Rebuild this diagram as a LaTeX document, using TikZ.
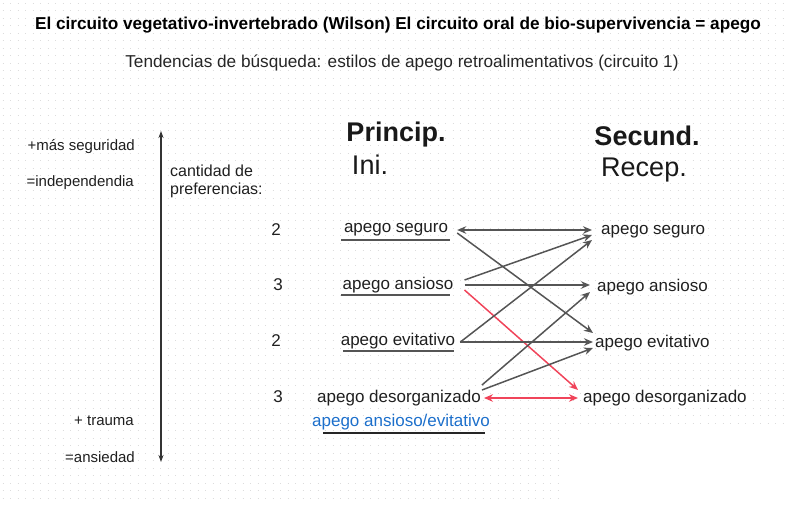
\documentclass[tikz,border=0pt]{standalone}
\usepackage{fontspec}
\setmainfont{Liberation Sans}
\usetikzlibrary{arrows.meta, positioning}
\definecolor{arrowgray}{HTML}{555555}
\definecolor{arrowred}{HTML}{F0445A}
\definecolor{linkblue}{HTML}{1C6FCB}
\definecolor{dotgray}{HTML}{DCDCDC}

\begin{document}
\begin{tikzpicture}[x=1pt, y=-1pt,
    apegotext/.style={
        font=\fontsize{17}{20}\selectfont,
        inner sep=0pt,
        text=black!88
    },
    sidetext/.style={
        font=\fontsize{15}{18}\selectfont,
        inner sep=0pt,
        anchor=east,
        text=black!88
    },
    headtext/.style={
        font=\fontsize{27}{30}\selectfont,
        inner sep=0pt,
        text=black!90
    },
    linkarrow/.style={
        draw=arrowgray,
        line width=1.5pt,
        -{Stealth[length=9pt, width=7.5pt]}
    },
    redarrow/.style={
        linkarrow,
        draw=arrowred
    },
    bothtips/.style={
        {Stealth[length=9pt, width=7.5pt]}-{Stealth[length=9pt, width=7.5pt]}
    }
]
\useasboundingbox (0,0) rectangle (786,504);

% Background dot grid
\foreach \k in {0,...,66} {
    \pgfmathsetmacro{\dy}{3.3+7.5*\k}
    \pgfmathsetmacro{\dx}{ifthenelse(\dy>424,562,786)}
    \draw[dotgray, line width=1.2pt, dash pattern=on 1.2pt off 6.3pt] (2.7,\dy) -- (\dx,\dy);
}

% Titles
\node[font=\fontsize{17.2}{20}\selectfont\bfseries, inner sep=0pt] (title) at (398,25)
    {El circuito vegetativo-invertebrado (Wilson) El circuito oral de bio-supervivencia = apego};
\node[font=\fontsize{17.2}{20}\selectfont, inner sep=0pt, text=black!85] (subtitle) at (402,63)
    {Tendencias de búsqueda: estilos de apego retroalimentativos (circuito 1)};

% Column heads
\node[headtext, font=\fontsize{27}{30}\selectfont\bfseries] (princ) at (396,135) {Princip.};
\node[headtext] (ini) at (370,165) {Ini.};
\node[headtext, font=\fontsize{27}{30}\selectfont\bfseries] (secund) at (647,136) {Secund.};
\node[headtext] (recep) at (644,170) {Recep.};

% Scale on the left
\node[sidetext] (seg) at (135,147) {+más seguridad};
\node[sidetext] (indep) at (134,183) {=independendia};
\node[sidetext] (trauma) at (134,421) {+ trauma};
\node[sidetext] (ansiedad) at (135,457) {=ansiedad};
\coordinate (axtop) at (161,131);
\coordinate (axbot) at (161,462);
\draw[black!80, line width=1.1pt, {Stealth[length=7pt, width=5pt]}-{Stealth[length=7pt, width=5pt]}] (axtop) -- (axbot);

\node[apegotext, anchor=west, align=left, font=\fontsize{16}{18}\selectfont] (cantidad) at (170,181)
    {cantidad de\\preferencias:};

% Preference counts
\node[apegotext] (n1) at (276,230) {2};
\node[apegotext] (n2) at (278,285) {3};
\node[apegotext] (n3) at (276,341) {2};
\node[apegotext] (n4) at (278,397) {3};

% Left column
\node[apegotext] (ls) at (396,230) {apego seguro};
\node[apegotext] (la) at (398,285) {apego ansioso};
\node[apegotext] (le) at (398,341) {apego evitativo};
\node[apegotext] (ld) at (399,398) {apego desorganizado};
\node[apegotext, text=linkblue] (lae) at (401,422) {apego ansioso/evitativo};

\draw[arrowgray, line width=1.5pt] (341,240) -- (450,240);
\draw[arrowgray, line width=1.5pt] (341,295) -- (450,295);
\draw[arrowgray, line width=1.5pt] (343,351) -- (454,351);
\draw[black!85, line width=1.5pt] (323,433) -- (485,433);

% Right column
\node[apegotext, anchor=west] (rs) at (601,232) {apego seguro};
\node[apegotext, anchor=west] (ra) at (597,287) {apego ansioso};
\node[apegotext, anchor=west] (re) at (595,343) {apego evitativo};
\node[apegotext, anchor=west] (rd) at (583,398) {apego desorganizado};

% Connections
\draw[linkarrow, bothtips] ([xshift=9pt]ls.east) -- ([xshift=-9pt, yshift=2pt]rs.west);
\draw[linkarrow] ([xshift=9pt, yshift=-3pt]ls.east) -- ([xshift=-2pt, yshift=10pt]re.west);
\draw[linkarrow] ([xshift=11pt, yshift=5pt]la.east) -- ([xshift=-9pt, yshift=-3pt]rs.west);
\draw[linkarrow] ([xshift=11pt]la.east) -- ([xshift=-7pt, yshift=2pt]ra.west);
\draw[redarrow] ([xshift=11pt, yshift=-5pt]la.east) -- ([xshift=-5pt, yshift=8pt]rd.west);
\draw[linkarrow] ([xshift=5pt, yshift=-1pt]le.east) -- ([xshift=-9pt, yshift=-8pt]rs.west);
\draw[linkarrow] ([xshift=5pt, yshift=-1pt]le.east) -- ([xshift=-2pt, yshift=1pt]re.west);
\draw[linkarrow] ([xshift=1pt, yshift=13pt]ld.east) -- ([xshift=-7pt, yshift=-5pt]ra.west);
\draw[linkarrow] ([xshift=1pt, yshift=8pt]ld.east) -- ([xshift=-2pt, yshift=-5pt]re.west);
\draw[redarrow, bothtips] ([xshift=3pt]ld.east) -- ([xshift=-5pt]rd.west);

\end{tikzpicture}
\end{document}
